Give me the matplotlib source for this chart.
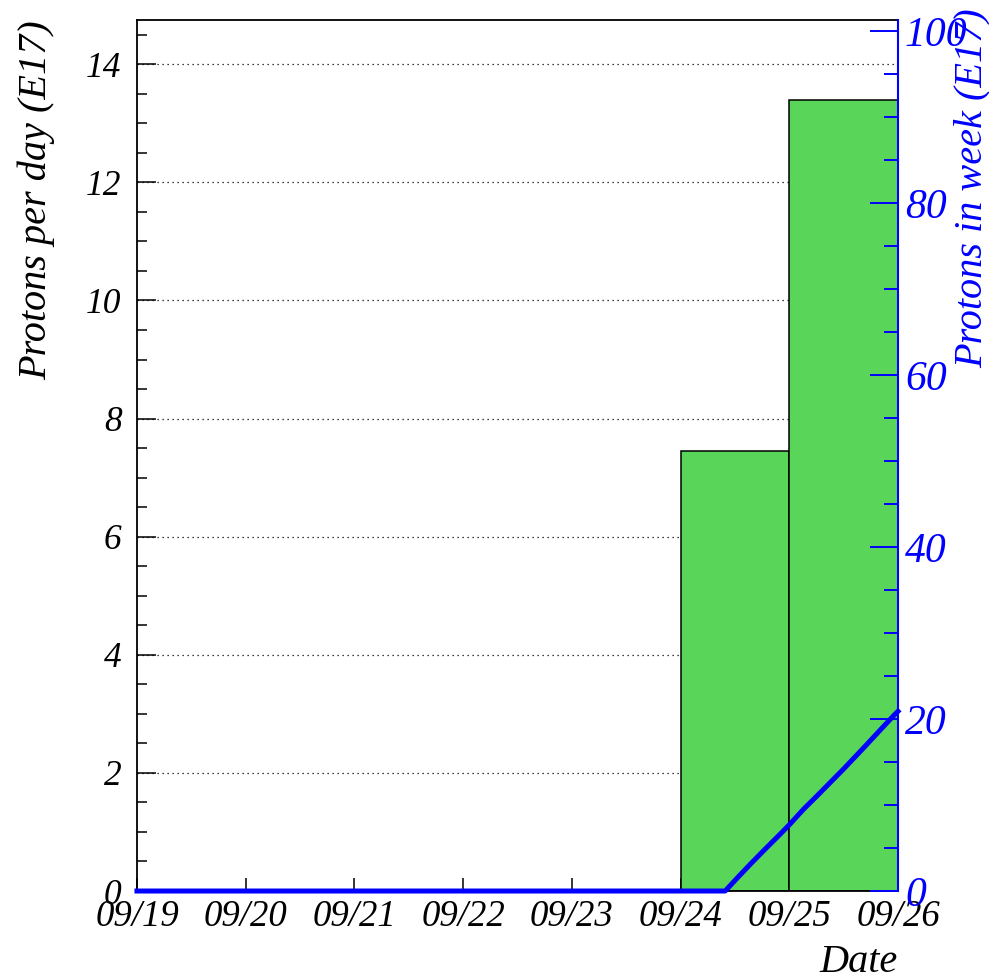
import numpy as np
import matplotlib
matplotlib.use("Agg")
import matplotlib.pyplot as plt
from matplotlib.ticker import MultipleLocator

plt.rcParams['font.family'] = ['Liberation Serif', 'DejaVu Serif']
plt.rcParams['font.style'] = 'italic'

# daily data
day_labels = ["09/19", "09/20", "09/21", "09/22", "09/23", "09/24", "09/25", "09/26"]
per_day = [0, 0, 0, 0, 0, 7.45, 13.4]

# cumulative protons in week (days since 09/19)
cum_days = [0.0, 5.41, 5.52, 5.64, 5.78, 5.915, 6.0, 6.13, 6.25, 6.375, 6.5, 6.68, 6.82, 6.96, 7.0]
cum_vals = [0.0, 0.0, 1.5, 3.1, 4.9, 6.6, 7.7, 9.5, 11.0, 12.6, 14.2, 16.6, 18.5, 20.4, 20.9]

fig = plt.figure(figsize=(9.89, 9.8), dpi=100)
ax = fig.add_axes([0.1385, 0.0908, 0.908 - 0.1385, 0.9796 - 0.0908])

ax.bar(np.arange(len(per_day)), per_day, width=1.0, align='edge',
       color='#59d55a', edgecolor='black', linewidth=1.1, zorder=2)
ax.set_xlim(0, 7)
ax.set_ylim(0, 14.75)
ax.yaxis.set_major_locator(MultipleLocator(2))
ax.yaxis.set_minor_locator(MultipleLocator(0.5))
ax.set_xticks(np.arange(len(day_labels)))
ax.set_xticklabels(day_labels)
ax.grid(axis='y', which='major', linestyle=(0, (1, 3)), color='black', linewidth=0.9, zorder=0)
ax.set_axisbelow(True)

ax.tick_params(axis='y', which='major', direction='in', length=14, width=1.1, labelsize=25.5, pad=11)
ax.tick_params(axis='y', which='minor', direction='in', length=7, width=1.1)
ax.tick_params(axis='x', which='major', direction='in', length=9.5, width=1.1, labelsize=26.5, pad=6)
for s in ['left', 'top', 'bottom']:
    ax.spines[s].set_linewidth(1.3)
ax.spines['right'].set_visible(False)

ax.set_ylabel("Protons per day (E17)", fontsize=29, loc='top')
ax.yaxis.set_label_coords(-0.108, 1.0)
ax.set_xlabel("Date", fontsize=29, loc='right', labelpad=7)

ax2 = ax.twinx()
ax2.plot(cum_days, cum_vals, color='#0000ff', linewidth=3.6, clip_on=False, zorder=5)
ax2.set_ylim(0, 101.3)
ax2.yaxis.set_major_locator(MultipleLocator(20))
ax2.yaxis.set_minor_locator(MultipleLocator(5))
ax2.tick_params(axis='y', which='major', direction='in', length=20, width=1.4,
                color='#0000ff', labelcolor='#0000ff', labelsize=30, pad=5)
ax2.tick_params(axis='y', which='minor', direction='in', length=10, width=1.4, color='#0000ff')
ax2.spines['right'].set_color('#0000ff')
ax2.spines['right'].set_linewidth(1.5)
for s in ['left', 'top', 'bottom']:
    ax2.spines[s].set_visible(False)
ax2.set_ylabel("Protons in week (E17)", fontsize=29, color='#0000ff', loc='top')
ax2.yaxis.set_label_coords(1.073, 1.013)

fig.savefig("out.png", dpi=100)
